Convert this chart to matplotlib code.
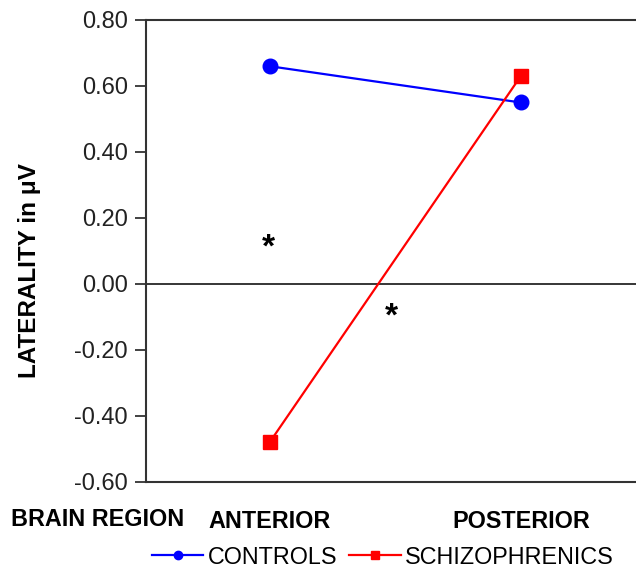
import matplotlib
matplotlib.use("Agg")
import matplotlib.pyplot as plt
from matplotlib.lines import Line2D

regions = ["ANTERIOR", "POSTERIOR"]
controls = [0.66, 0.55]
schizophrenics = [-0.48, 0.63]
yticks = [-0.60, -0.40, -0.20, 0.00, 0.20, 0.40, 0.60, 0.80]
star_pos = [(0.995, 0.11), (1.485, -0.10)]

plt.rcParams['font.family'] = ['Liberation Sans', 'DejaVu Sans']

fig = plt.figure(figsize=(6.36, 5.72), dpi=100)
ax = fig.add_axes([146/636, 90/572, 1 - 146/636 + 0.01, 462/572])

x = [1, 2]
ax.plot(x, controls, color='#0000ff', lw=1.6, marker='o', ms=10.5, zorder=3)
ax.plot(x, schizophrenics, color='#ff0000', lw=1.6, marker='s', ms=9.5, zorder=3)
ax.axhline(0, color='black', lw=1.1, zorder=2)

for sx, sy in star_pos:
    ax.text(sx, sy, "*", ha='center', va='center', fontsize=24, fontweight='bold')

ax.set_xlim(0.508, 2.484)
ax.set_ylim(-0.60, 0.80)
ax.set_yticks(yticks)
ax.set_yticklabels([f"{v:.2f}" for v in yticks], fontsize=17, color='#222222')
ax.set_xticks(x)
ax.set_xticklabels(regions, fontsize=16.8, fontweight='bold')
ax.tick_params(axis='x', length=0, pad=20)
ax.tick_params(axis='y', length=8, width=1.3, direction='out', color='#333333', pad=5)

for s in ['left', 'top', 'bottom']:
    ax.spines[s].set_color('#333333')
    ax.spines[s].set_linewidth(1.5)
ax.spines['right'].set_visible(False)

ax.set_ylabel("LATERALITY in μV", fontsize=17.5, fontweight='bold')
ax.yaxis.set_label_coords(-(146 - 42) / 490, 0.457)

fig.text(98/636, 1 - 519/572, "BRAIN REGION", ha='center', va='center',
         fontsize=16.8, fontweight='bold')

handles = [
    Line2D([], [], color='#0000ff', lw=1.6, marker='o', ms=6),
    Line2D([], [], color='#ff0000', lw=1.6, marker='s', ms=6),
]
fig.legend(handles, ["CONTROLS", "SCHIZOPHRENICS"], loc='center',
           bbox_to_anchor=(383/636, 1 - 557/572), ncol=2, frameon=False,
           fontsize=16.8, handlelength=2.2, handletextpad=0.2, columnspacing=0.5)

fig.savefig("out.png", dpi=100)
